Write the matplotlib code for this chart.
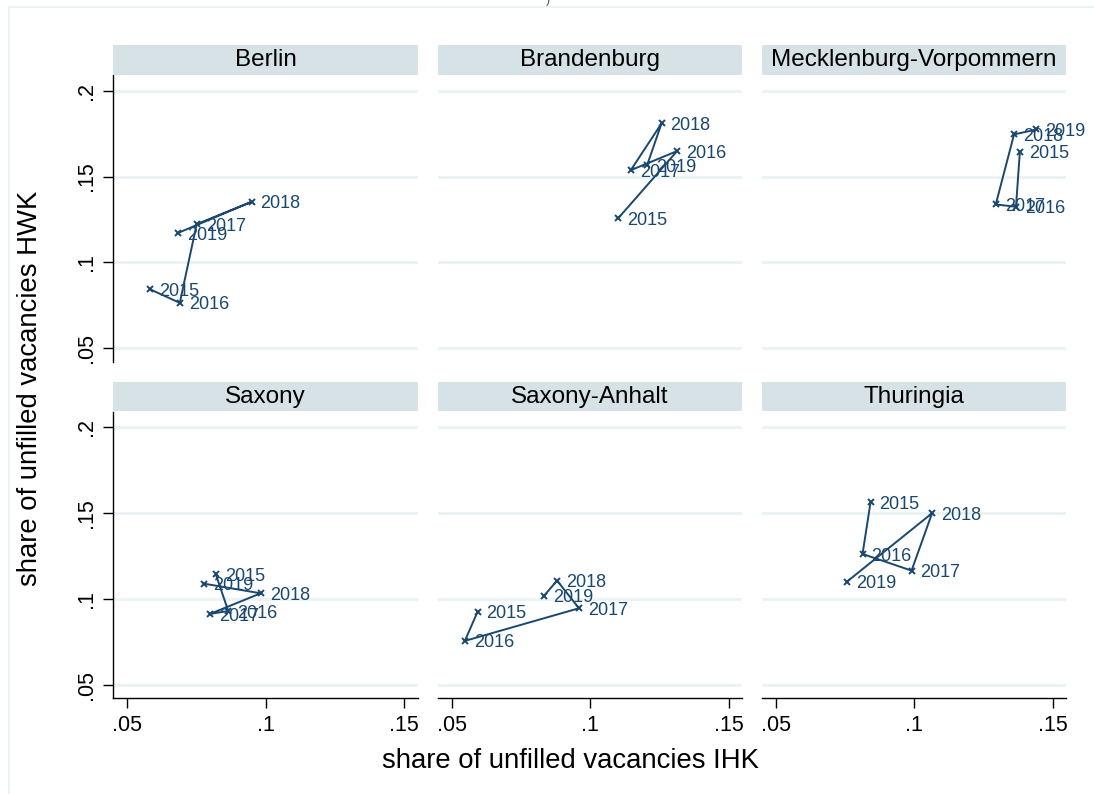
import matplotlib
matplotlib.use('Agg')
import matplotlib.pyplot as plt
from matplotlib.patches import Rectangle

plt.rcParams['font.family'] = ['Liberation Sans', 'DejaVu Sans']

# data
years = [2015, 2016, 2017, 2018, 2019]
states = ['Berlin', 'Brandenburg', 'Mecklenburg-Vorpommern',
          'Saxony', 'Saxony-Anhalt', 'Thuringia']

berlin_ihk = [0.0584, 0.0690, 0.0751, 0.0949, 0.0684]
berlin_hwk = [0.0843, 0.0765, 0.1223, 0.1353, 0.1172]
brandenburg_ihk = [0.1101, 0.1314, 0.1147, 0.1258, 0.1206]
brandenburg_hwk = [0.1256, 0.1648, 0.1537, 0.1809, 0.1566]
mv_ihk = [0.1382, 0.1368, 0.1295, 0.1361, 0.1442]
mv_hwk = [0.1644, 0.1324, 0.1338, 0.1745, 0.1774]
saxony_ihk = [0.0820, 0.0865, 0.0799, 0.0982, 0.0778]
saxony_hwk = [0.1144, 0.0930, 0.0913, 0.1033, 0.1089]
anhalt_ihk = [0.0594, 0.0548, 0.0960, 0.0881, 0.0834]
anhalt_hwk = [0.0926, 0.0756, 0.0946, 0.1107, 0.1019]
thuringia_ihk = [0.0843, 0.0814, 0.0991, 0.1065, 0.0758]
thuringia_hwk = [0.1563, 0.1262, 0.1165, 0.1499, 0.1101]

xs = [berlin_ihk, brandenburg_ihk, mv_ihk, saxony_ihk, anhalt_ihk, thuringia_ihk]
ys = [berlin_hwk, brandenburg_hwk, mv_hwk, saxony_hwk, anhalt_hwk, thuringia_hwk]

xticks = [0.05, 0.1, 0.15]
xticklabels = ['.05', '.1', '.15']
yticks = [0.05, 0.1, 0.15, 0.2]
yticklabels = ['.05', '.1', '.15', '.2']

# colours
navy = '#1A476F'
grid_col = '#EAF2F3'
strip_col = '#D6E2E6'

W, H = 1094, 794
fig = plt.figure(figsize=(W / 100, H / 100), dpi=100)

# faint outer border
fig.patches.append(Rectangle((9 / W, -0.05), 1.2, 1 - 7 / H + 0.05,
                             transform=fig.transFigure, fill=False,
                             edgecolor=grid_col, linewidth=1.5))
fig.text(548 / W, 1.0, ')', ha='center', va='center', fontsize=9, color='#555555')

col_left = [113.3, 437.7, 761.7]
row_top = [75, 411.5]
aw, ah = 304.7, 286.7
strip_h = 30

for i, name in enumerate(states):
    r, c = divmod(i, 3)
    left = col_left[c] / W
    bottom = 1 - (row_top[r] + ah) / H
    ax = fig.add_axes([left, bottom, aw / W, ah / H])
    ax.set_xlim(0.045, 0.155)
    ax.set_ylim(0.04226, 0.2091)
    for s in ax.spines.values():
        s.set_visible(False)
    ax.set_yticks(yticks)
    ax.set_xticks(xticks)
    for yv in yticks:
        ax.axhline(yv, color=grid_col, linewidth=2, zorder=0)

    if c == 0:
        ax.spines['left'].set_visible(True)
        ax.spines['left'].set_linewidth(1.0)
        ax.set_yticklabels(yticklabels, rotation=90, va='center', fontsize=15.5)
        ax.tick_params(axis='y', length=7, width=1, pad=5)
    else:
        ax.tick_params(axis='y', left=False, labelleft=False)
    if r == 1:
        ax.spines['bottom'].set_visible(True)
        ax.spines['bottom'].set_linewidth(1.0)
        ax.set_xticklabels(xticklabels, fontsize=15.5)
        ax.tick_params(axis='x', length=7, width=1, pad=5)
    else:
        ax.tick_params(axis='x', bottom=False, labelbottom=False)

    ax.plot(xs[i], ys[i], color=navy, linewidth=1.4, marker='x',
            markersize=4.5, markeredgewidth=1.4, zorder=3)
    for yr, xv, yv in zip(years, xs[i], ys[i]):
        ax.annotate(str(yr), (xv, yv), xytext=(6.5, -1.5),
                    textcoords='offset points', ha='left', va='center',
                    fontsize=13, color=navy, zorder=4)

    # strip header
    sax = fig.add_axes([left, 1 - row_top[r] / H, aw / W, strip_h / H])
    sax.set_facecolor(strip_col)
    sax.set_xticks([])
    sax.set_yticks([])
    for s in sax.spines.values():
        s.set_visible(False)
    sax.text(0.5, 0.5, name, ha='center', va='center', fontsize=17.5,
             transform=sax.transAxes)

fig.text(570 / W, 1 - 761 / H, 'share of unfilled vacancies IHK',
         ha='center', va='center', fontsize=19.8)
fig.text(30 / W, 1 - 388 / H, 'share of unfilled vacancies HWK',
         ha='center', va='center', rotation=90, fontsize=19.8)

fig.savefig('out.png', dpi=100, facecolor='white')
